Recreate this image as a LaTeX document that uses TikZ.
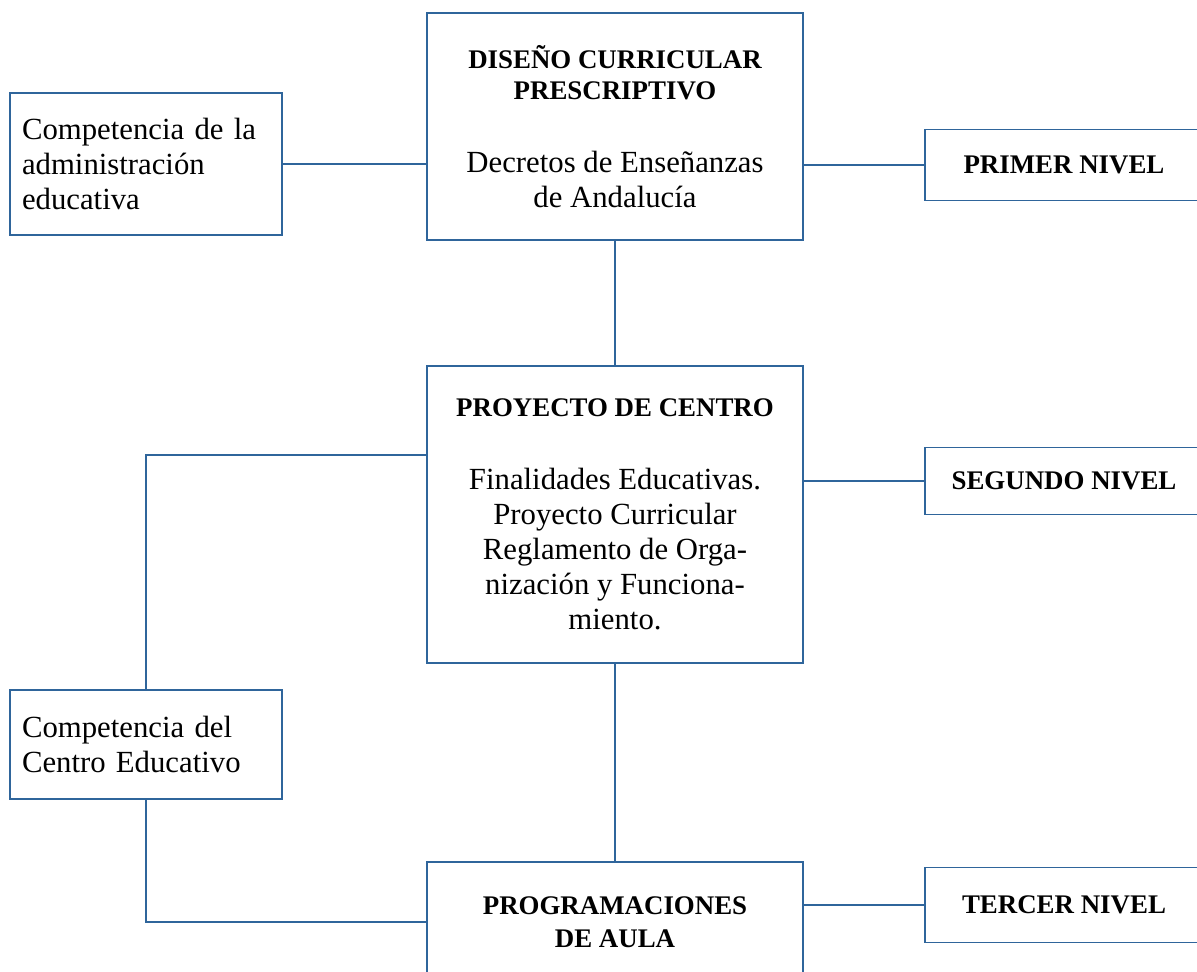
\documentclass[tikz,border=0pt]{standalone}
\usepackage{fontspec}
\setmainfont{Liberation Serif}
\usetikzlibrary{positioning,calc}
\definecolor{lineblue}{RGB}{47,101,155}
\newcommand{\capline}[1]{{\fontsize{15.3}{18}\selectfont\bfseries #1}}
\tikzset{box node/.style={rectangle,draw=lineblue,line width=1.1pt,inner sep=0pt,align=center,font=\fontsize{17.5}{19.9}\selectfont},
	side node/.style={box node,align=left,inner xsep=0.24cm,text width=4.96cm,minimum height=#1},
	level node/.style={box node,minimum width=5.56cm,minimum height=#1,font=\fontsize{15.3}{18}\selectfont\bfseries},
	link/.style={draw=lineblue,line width=1.1pt},
}

\begin{document}
\begin{tikzpicture}[x=0.02cm,y=-0.02cm]
				\useasboundingbox (0,0) rectangle (1197,972);
				
				\node[box node,minimum width=7.52cm,minimum height=4.54cm] (diseno) at (615,126.5) {\capline{DISEÑO CURRICULAR}\\[-1.8pt]\capline{PRESCRIPTIVO}\\[21.5pt]Decretos de Enseñanzas\\de Andalucía};
				\node[box node,minimum width=7.52cm,minimum height=5.94cm] (centro) at (615,514.5) {\capline{PROYECTO DE CENTRO}\\[21.5pt]Finalidades Educativas.\\Proyecto Curricular\\Reglamento de Orga-\\nización y Funciona-\\miento.};
				\node[box node,minimum width=7.52cm,minimum height=2.4cm] (aula) at (615,922) {\capline{PROGRAMACIONES}\\[-1.2pt]\capline{DE AULA}};
				
				\node[side node=2.84cm] (admin) at (146,164) {Competencia de la\\administración\\educativa};
				\node[side node=2.18cm] (educ) at (146,744.5) {Competencia del\\Centro Educativo};
				
				\node[level node=1.42cm] (primer) at (1064,165) {PRIMER NIVEL};
				\node[level node=1.34cm] (segundo) at (1064,481) {SEGUNDO NIVEL};
				\node[level node=1.5cm] (tercer) at (1064,905) {TERCER NIVEL};
				
				\path[link]
				(diseno) edge (centro)
				(centro) edge (aula)
				(admin.east) edge (admin.east -| diseno.west)
				(primer.west -| diseno.east) edge (primer.west)
				(segundo.west -| centro.east) edge (segundo.west)
				(tercer.west -| aula.east) edge (tercer.west);
				
				\draw[link] ($(centro.north west)!0.3!(centro.south west)$) -| (educ.north);
				\draw[link] (educ.south) |- (aula.west);
				
			\end{tikzpicture}
\end{document}
